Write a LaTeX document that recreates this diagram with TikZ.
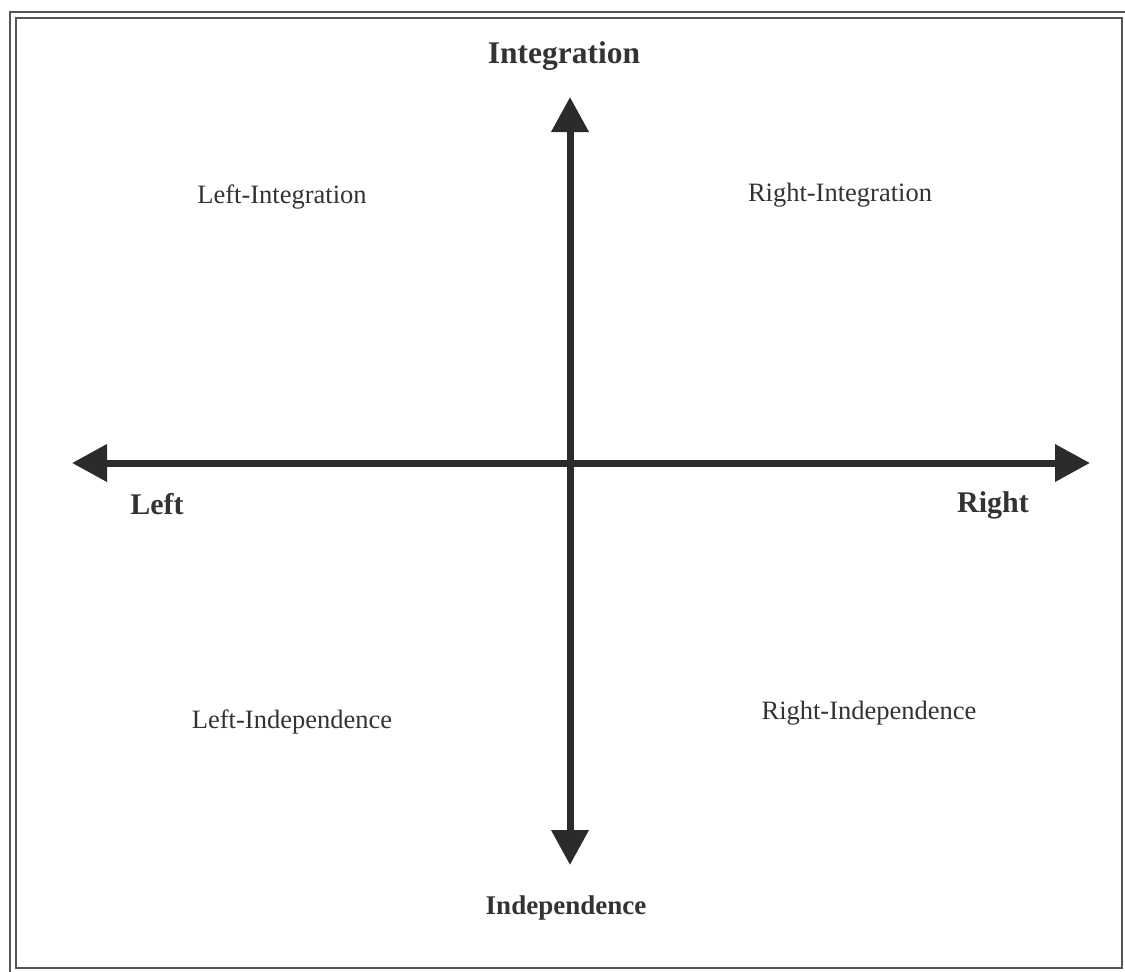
\documentclass[tikz,border=0pt]{standalone}
\usepackage{fontspec}
\setmainfont{Liberation Serif}
\usetikzlibrary{arrows.meta}
\definecolor{axisgray}{HTML}{2B2B2B}
\definecolor{textgray}{HTML}{333333}
\definecolor{framegray}{HTML}{555555}
\begin{document}
\begin{tikzpicture}[x=1pt,y=-1pt,
  axis/.style={draw=axisgray,line width=7pt,-{Triangle[width=36pt,length=35pt]}},
  axislabel/.style={font=\fontsize{30}{36}\selectfont\bfseries,text=textgray,anchor=base,inner sep=0pt},
  quadlabel/.style={font=\fontsize{26.5}{32}\selectfont,text=textgray,anchor=base,inner sep=0pt},
  frame/.style={draw=framegray,line width=2pt}]
\useasboundingbox (0,0) rectangle (1125,972);
\fill[white] (0,0) rectangle (1125,972);
\draw[frame] (10,12) rectangle (1140,985);
\draw[frame] (15.5,17.5) rectangle (1122,968);
\coordinate (c) at (570,463);
\coordinate (top) at (570,97);
\coordinate (bottom) at (570,865);
\coordinate (left) at (72,463);
\coordinate (right) at (1090,463);
\coordinate (ctop) at (570,475);
\coordinate (cleft) at (582,463);
\draw[axis] (ctop) -- (top);
\draw[axis] (c) -- (bottom);
\draw[axis] (cleft) -- (left);
\draw[axis] (c) -- (right);
\node[axislabel,font=\fontsize{31.5}{36}\selectfont\bfseries] (integration) at (564,63) {Integration};
\node[axislabel,font=\fontsize{27}{32}\selectfont\bfseries] (independence) at (566,914) {Independence};
\node[axislabel] (leftlab) at (157,514) {Left};
\node[axislabel] (rightlab) at (993,512) {Right};
\node[quadlabel] (li) at (282,203) {Left-Integration};
\node[quadlabel] (ri) at (840,201) {Right-Integration};
\node[quadlabel] (lind) at (292,728) {Left-Independence};
\node[quadlabel] (rind) at (869,719) {Right-Independence};
\end{tikzpicture}
\end{document}
